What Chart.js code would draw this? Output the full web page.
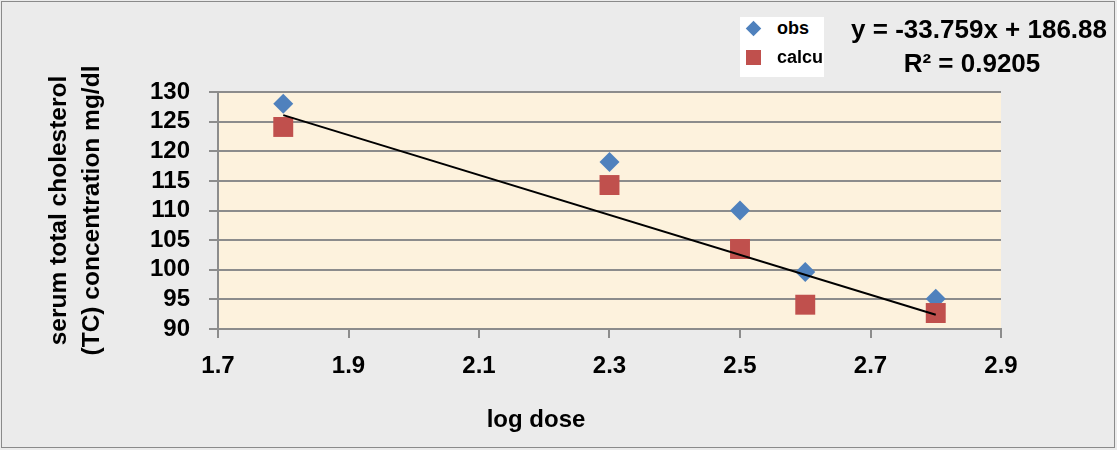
<!DOCTYPE html>
<html>
<head>
<meta charset="utf-8">
<script src="https://cdn.jsdelivr.net/npm/chart.js@4.4.0/dist/chart.umd.min.js"></script>
<style>
	body { margin: 0; background: #fff; }
	#wrap {
		position: relative; width: 1117px; height: 450px;
		background: #ebebeb; font-family: "Liberation Sans", Arial, sans-serif;
	}
	#frame {
		position: absolute; left: 1px; top: 1px; width: 1112px; height: 445px;
		border: 1px solid #8a8a8a; pointer-events: none;
	}
	#legend {
		position: absolute; left: 740px; top: 17px; width: 84px; height: 60px;
		background: #fff; font-weight: bold; font-size: 18px; color: #000;
	}
	.item { position: absolute; left: 37px; line-height: 20px; }
	.mk { position: absolute; }
	#eq {
		position: absolute; right: 10px; top: 12px; width: 270px; text-align: center;
		font-weight: bold; font-size: 26px; line-height: 34px; color: #000;
	}
	#eq .l1 { text-align: right; }
	#xtitle {
		position: absolute; left: 436px; top: 405px; width: 200px; text-align: center;
		font-weight: bold; font-size: 24px; color: #000;
	}
</style>
</head>
<body>
<div id="wrap">
	<canvas id="doseChart"></canvas>
	<div id="legend">
		<div class="mk" style="left:8px;top:6px;width:11px;height:11px;background:#4f81bd;transform:rotate(45deg);"></div>
		<div class="item" style="top:1px;">obs</div>
		<div class="mk" style="left:6px;top:33px;width:15px;height:15px;background:#c0504d;"></div>
		<div class="item" style="top:30px;">calcu</div>
	</div>
	<div id="eq"><div class="l1">y = -33.759x + 186.88</div><div>R² = 0.9205</div></div>
	<div id="xtitle">log dose</div>
	<div id="frame"></div>
</div>
<script>
// data
const doses = [1.8, 2.3, 2.5, 2.6, 2.8];
const obsValues = [128, 118.2, 110, 99.6, 95.1];
const calcuValues = [124.1, 114.3, 103.5, 94.1, 92.7];
// trend line end points (y = -33.759x + 186.88)
const trendX = [1.8, 2.8];
const trendY = [126.1, 92.4];
const xTicks = [1.7, 1.9, 2.1, 2.3, 2.5, 2.7, 2.9];
const yTicks = [90, 95, 100, 105, 110, 115, 120, 125, 130];

function toPoints(xs, ys) {
	return xs.map(function(x, i) { return { x: x, y: ys[i] }; });
}

const plotBg = {
	id: 'plotBg',
	beforeDraw: function(chart) {
		const a = chart.chartArea;
		const ctx = chart.ctx;
		ctx.save();
		ctx.fillStyle = '#fdf2dd';
		ctx.fillRect(a.left, a.top, a.right - a.left, a.bottom - a.top);
		ctx.restore();
	}
};

const tickFont = { family: 'Liberation Sans', size: 24, weight: 'bold' };

new Chart(document.getElementById('doseChart'), {
	type: 'scatter',
	data: {
		datasets: [{
			label: 'trend',
			type: 'line',
			data: toPoints(trendX, trendY),
			borderColor: '#000',
			borderWidth: 2,
			pointRadius: 0,
			fill: false,
			order: 0
		}, {
			label: 'calcu',
			data: toPoints(doses, calcuValues),
			pointStyle: 'rect',
			pointRadius: 14.1,
			pointHoverRadius: 14.1,
			backgroundColor: '#c0504d',
			borderColor: '#c0504d',
			borderWidth: 0,
			order: 1
		}, {
			label: 'obs',
			data: toPoints(doses, obsValues),
			pointStyle: 'rectRot',
			pointRadius: 10,
			pointHoverRadius: 10,
			backgroundColor: '#4f81bd',
			borderColor: '#4f81bd',
			borderWidth: 0,
			order: 2
		}]
	},
	options: {
		responsive: true,
		maintainAspectRatio: false,
		animation: false,
		layout: { padding: { left: 0, top: 92, right: 116, bottom: 0 } },
		plugins: { legend: { display: false }, tooltip: { enabled: false } },
		scales: {
			x: {
				type: 'linear',
				min: 1.7,
				max: 2.9,
				afterBuildTicks: function(axis) {
					axis.ticks = xTicks.map(function(v) { return { value: v }; });
				},
				afterFit: function(axis) { axis.height = 121; },
				grid: { drawOnChartArea: false, drawTicks: true, tickLength: 9, color: '#8c8c8c', lineWidth: 2 },
				border: { display: true, color: '#8c8c8c', width: 2 },
				ticks: {
					color: '#000', font: tickFont, padding: 14, maxRotation: 0, autoSkip: false,
					callback: function(v) { return v.toFixed(1); }
				}
			},
			y: {
				min: 90,
				max: 130,
				afterBuildTicks: function(axis) {
					axis.ticks = yTicks.map(function(v) { return { value: v }; });
				},
				afterFit: function(axis) { axis.width = 218; },
				grid: { color: '#8c8c8c', lineWidth: 2, tickLength: 9 },
				border: { display: true, color: '#8c8c8c', width: 2 },
				ticks: { color: '#000', font: tickFont, padding: 19, autoSkip: false },
				title: {
					display: true,
					text: ['serum total cholesterol', '(TC) concentration mg/dl'],
					color: '#000',
					font: { family: 'Liberation Sans', size: 24.5, weight: 'bold', lineHeight: 1.33 },
					padding: { top: 43, bottom: 0 }
				}
			}
		}
	},
	plugins: [plotBg]
});
</script>
</body>
</html>
